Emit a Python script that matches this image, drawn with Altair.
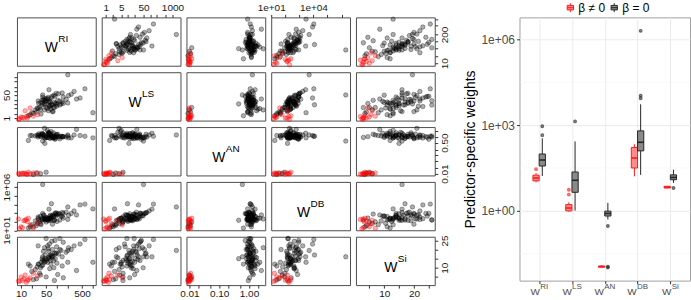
import altair as alt
import pandas as pd

VARS = ["RI", "LS", "AN", "DB", "Si"]

# ---------------- scatter-matrix data (beta = 0 : black, beta != 0 : red) ----------
ri_black = [60, 45, 95, 38, 120, 70, 30, 55, 80, 25, 150, 65,
            42, 100, 35, 210, 58, 48, 88, 20, 75, 52, 130, 40,
            62, 33, 110, 68, 50, 90, 28, 180, 57, 44, 78, 36,
            300, 63, 47, 98, 18, 72, 54, 85, 39, 250, 66, 31,
            140, 59, 440, 1000, 600, 46, 27, 35, 50, 22, 105, 82,
            120, 40, 200, 60, 350, 16, 75, 140, 30, 95, 200, 40,
            70, 45, 150, 85]
ls_black = [8, 20, 12, 9, 18, 30, 5, 25, 6, 4, 35, 15,
            22, 10, 14, 45, 3.5, 16, 40, 2.5, 9, 28, 11, 13,
            7, 6, 60, 4.5, 19, 12, 5.5, 24, 33, 10, 3, 2,
            90, 17, 26, 7.5, 1.8, 38, 5, 14, 21, 55, 8.5, 12,
            70, 16, 30, 2.5, 140, 11, 2.8, 4.2, 6, 2.2, 20, 48,
            9, 35, 13, 120, 25, 1.5, 3, 15, 18, 65, 1500, 50,
            9.5, 4, 12, 6]
an_black = [1.3, 0.9, 1.1, 1.6, 0.8, 1.2, 1.0, 0.95, 1.7, 1.15, 1.05, 0.85,
            1.4, 1.25, 1.1, 0.9, 1.8, 1.0, 0.75, 1.2, 1.35, 0.95, 1.1, 1.5,
            0.88, 1.3, 1.05, 2.0, 1.15, 0.82, 1.25, 1.0, 1.45, 1.2, 0.92, 1.1,
            1.3, 1.6, 0.85, 1.05, 1.2, 0.98, 2.3, 1.1, 1.35, 0.9, 1.25, 1.5,
            1.0, 1.7, 1.2, 0.9, 1.1, 0.45, 0.011, 0.010, 0.012, 0.009, 1.4, 0.95,
            1.0, 1.3, 1.15, 1.6, 2.6, 0.65, 0.9, 1.1, 1.2, 1.4, 1.3, 0.6,
            1.1, 3.0, 1.05, 0.95]
db_black = [240, 210, 450, 160, 750, 300, 240, 175, 360, 120, 900, 150,
            600, 105, 420, 540, 150, 300, 900, 45, 550, 280, 450, 190,
            220, 95, 900, 240, 165, 840, 65, 1250, 210, 510, 140, 45,
            1750, 420, 195, 640, 25, 440, 250, 140, 240, 900, 570, 165,
            1125, 125, 8700, 3000, 10700, 145, 35, 60, 90, 25, 750, 460,
            150, 900, 180, 2800, 600, 18, 50, 400, 350, 1100, 5000, 2000000,
            12000, 200, 260, 150]
si_black = [15, 13, 18, 11, 20, 16, 12, 22, 14, 9, 24, 17,
            19, 12.5, 10, 21, 15.5, 13.5, 25, 8, 16.5, 14.5, 19.5, 11.5,
            23, 7, 17.5, 12, 26, 15, 10.5, 18.5, 20.5, 14, 16, 13,
            22, 9.5, 17, 21.5, 11, 24.5, 13, 18, 15, 20, 14, 12,
            16, 19, 23, 13, 25.5, 15, 4, 6, 5, 3.5, 6.3, 10,
            26, 14, 13, 16, 8.5, 12, 20, 11, 22, 18, 19.5, 16,
            17, 21, 4.5, 3]

ri_red = [9, 11, 12, 14, 10, 16, 13, 18, 22, 8.5, 29, 15]
ls_red = [0.9, 1.1, 1.0, 1.3, 1.2, 1.5, 3.5, 5.5, 1.4, 0.8, 1.8, 1.0]
an_red = [0.009, 0.010, 0.011, 0.0095, 0.0105, 0.012, 0.010, 0.0098, 0.011, 0.0102, 0.0108, 0.0092]
db_red = [15, 20, 130, 180, 25, 250, 140, 40, 17, 200, 60, 100]
si_red = [2.5, 3, 4, 2, 5, 3.5, 6, 4.5, 7, 2.8, 5.5, 3.2]

pts = pd.DataFrame({
    "RI": ri_black + ri_red,
    "LS": ls_black + ls_red,
    "AN": an_black + an_red,
    "DB": db_black + db_red,
    "Si": si_black + si_red,
    "grp": ["b"] * len(ri_black) + ["r"] * len(ri_red),
})

DOM = {"RI": [7.7, 1200], "LS": [0.66, 2300], "AN": [0.008, 3.5],
       "DB": [10, 4.0e6], "Si": [0.5, 27]}
STYPE = {"RI": "log", "LS": "log", "AN": "log", "DB": "log", "Si": "linear"}
TICKS = {
    "RI": [10, 20, 50, 100, 200, 500, 1000],
    "LS": [1, 2, 5, 10, 20, 50, 100, 200, 500, 1000],
    "AN": [0.01, 0.02, 0.05, 0.1, 0.2, 0.5, 1, 2],
    "DB": [1e1, 1e2, 1e3, 1e4, 1e5, 1e6],
    "Si": [5, 10, 15, 20, 25],
}
LAB_COL = {"RI": {10: "10", 50: "50", 500: "500"},
           "LS": {1: "1", 5: "5", 50: "50", 1000: "1000"},
           "AN": {0.01: "0.01", 0.1: "0.10", 1: "1.00"},
           "DB": {1e1: "1e+01", 1e4: "1e+04"},
           "Si": {10: "10", 20: "20"}}
LAB_ROW = {"RI": {10: "10", 200: "200"},
           "LS": {1: "1", 50: "50"},
           "AN": {0.01: "0.01", 0.5: "0.50"},
           "DB": {1e1: "1e+01", 1e6: "1e+06"},
           "Si": {10: "10", 25: "25"}}

# ---------------- boxplot data (log10 of weights) ----------------
box_idx = [1, 2, 3, 4, 5]
box_sup = ["RI", "LS", "AN", "DB", "Si"]
neq_q1 = [1.05, 0.00, -1.97, 1.50, 0.80]
neq_med = [1.15, 0.10, -1.95, 1.85, 0.83]
neq_q3 = [1.25, 0.22, -1.93, 2.22, 0.86]
neq_lo = [1.00, -0.03, -1.98, 1.21, 0.79]
neq_hi = [1.32, 0.30, -1.90, 2.33, 0.87]
eq_q1 = [1.57, 0.65, -0.18, 2.10, 1.09]
eq_med = [1.78, 1.07, -0.09, 2.40, 1.17]
eq_q3 = [1.99, 1.36, -0.01, 2.80, 1.26]
eq_lo = [1.22, 0.01, -0.30, 1.26, 0.98]
eq_hi = [2.54, 2.43, 0.28, 3.73, 1.44]
neq_out_idx = [1, 2, 2]
neq_out_val = [1.46, 0.57, 0.74]
eq_out_idx = [1, 1, 2, 3, 3, 3, 4, 4, 4, 5]
eq_out_val = [2.65, 2.96, 3.13, -0.53, -1.95, -1.98, 3.94, 4.03, 6.30, 0.80]
minor_breaks = [-1.5, 1.5, 4.5]

G_NEQ, G_EQ = "β ≠ 0", "β = 0"
GRP = [G_NEQ, G_EQ]

bdf = pd.DataFrame({
    "v": box_idx + box_idx,
    "g": [G_NEQ] * 5 + [G_EQ] * 5,
    "q1": neq_q1 + eq_q1, "med": neq_med + eq_med, "q3": neq_q3 + eq_q3,
    "lo": neq_lo + eq_lo, "hi": neq_hi + eq_hi,
})
odf = pd.DataFrame({
    "v": neq_out_idx + eq_out_idx,
    "g": [G_NEQ] * len(neq_out_idx) + [G_EQ] * len(eq_out_idx),
    "val": neq_out_val + eq_out_val,
})

FONT = "Liberation Sans"
PW, PH = 79, 48.5


def label_expr(d):
    s = ""
    for v, txt in d.items():
        tol = abs(v) * 1e-6
        s += f"abs(datum.value - {float(v)!r}) < {tol!r} ? '{txt}' : "
    return s + "''"


AX = dict(tickSize=3, domain=False, grid=False, labelFlush=False,
          labelOverlap=False, labelFontSize=10, labelColor="#1a1a1a",
          tickColor="#333333", title=None, labelFont=FONT)


def xaxis(var, orient):
    return alt.Axis(orient=orient, values=TICKS[var], labelExpr=label_expr(LAB_COL[var]),
                    labelAngle=0, labelPadding=2 if orient == "top" else 0, **AX)


def yaxis(var, orient):
    return alt.Axis(orient=orient, values=TICKS[var], labelExpr=label_expr(LAB_ROW[var]),
                    labelAngle=270, labelAlign="center", labelPadding=2,
                    labelBaseline="bottom" if orient == "left" else "top", **AX)


def sc(v):
    return alt.Scale(type=STYPE[v], domain=DOM[v], nice=False, zero=False)


SUPW10 = {"RI": 10.0, "LS": 12.2, "AN": 13.9, "DB": 13.9, "Si": 8.9}
one = pd.DataFrame({"a": [0]})


def diag_text(v):
    wW = 13.2
    total = wW + SUPW10[v]
    x0 = PW / 2 - total / 2
    w = alt.Chart(one).mark_text(align="left", baseline="alphabetic", fontSize=14,
                                 font=FONT, color="#000").encode(
        x=alt.value(x0), y=alt.value(35), text=alt.value("W"))
    s = alt.Chart(one).mark_text(align="left", baseline="alphabetic", fontSize=10,
                                 font=FONT, color="#000").encode(
        x=alt.value(x0 + wW + 0.3), y=alt.value(25), text=alt.value(v))
    return [w, s]


def panel(i, j):
    vy, vx = VARS[i], VARS[j]
    xa = None
    ya = None
    if i == 0 and j in (1, 3):
        xa = xaxis(vx, "top")
    if i == 4 and j in (0, 2, 4):
        xa = xaxis(vx, "bottom")
    if j == 0 and i in (1, 3):
        ya = yaxis(vy, "left")
    if j == 4 and i in (0, 2, 4):
        ya = yaxis(vy, "right")
    enc = dict(x=alt.X(f"{vx}:Q", scale=sc(vx), axis=xa),
               y=alt.Y(f"{vy}:Q", scale=sc(vy), axis=ya))
    if i == j:
        layers = []
        if xa is not None or ya is not None:
            layers.append(alt.Chart(pts).mark_point(opacity=0).encode(**enc))
        layers += diag_text(vx)
        return alt.layer(*layers).properties(width=PW, height=PH)
    base = alt.Chart(pts)
    black = base.transform_filter("datum.grp == 'b'").mark_circle(
        size=20, fill="#000000", fillOpacity=0.32, stroke="#000000",
        strokeOpacity=0.45, strokeWidth=0.7).encode(**enc)
    red = base.transform_filter("datum.grp == 'r'").mark_circle(
        size=20, fill="#ff0000", fillOpacity=0.32, stroke="#ff0000",
        strokeOpacity=0.45, strokeWidth=0.7).encode(**enc)
    return alt.layer(black, red).properties(width=PW, height=PH)


matrix = alt.concat(*[panel(i, j) for i in range(5) for j in range(5)],
                    columns=5, spacing=6, bounds="flush")

# ---------------- boxplot panel ----------------
BW, BH = 171, 264
xs = alt.Scale(domain=[0.4, 5.6], nice=False, zero=False)
ys = alt.Scale(domain=[-2.44, 6.77], nice=False, zero=False)
XAX = alt.Axis(values=[1, 2, 3, 4, 5], labels=False, title=None, grid=True,
               gridColor="#ebebeb", gridWidth=1, tickSize=3, tickColor="#333333",
               domain=False)
YAX = alt.Axis(values=[0, 3, 6], labelExpr="'1e+0' + datum.value",
               title="Predictor-specific weights", grid=True, gridColor="#ebebeb",
               gridWidth=1, tickSize=3, tickColor="#333333", domain=False,
               labelFontSize=12, labelColor="#4d4d4d", labelFont=FONT,
               titleFont=FONT, titleFontSize=14, titleFontWeight="normal",
               titleColor="#000000", titlePadding=3, labelPadding=2)

KEY_PATH = "M-0.7,-0.5H0.7V0.5H-0.7Z M0,-1V-0.5 M0,0.5V1 M-0.7,0H0.7"
LEG = alt.Legend(title=None, orient="none", legendX=549, legendY=-16,
                 direction="horizontal", symbolType=KEY_PATH, symbolSize=81,
                 symbolStrokeWidth=1, labelFontSize=12, labelFont=FONT,
                 labelColor="#000000", columnPadding=3, labelOffset=2, padding=0)
fill_sc = alt.Scale(domain=GRP, range=["#ff8c8c", "#8a8a8a"])
stroke_sc = alt.Scale(domain=GRP, range=["#ff1a1a", "#262626"])

bb = alt.Chart(bdf).transform_calculate(
    pos=f"datum.v + (datum.g == '{G_NEQ}' ? -0.095 : 0.095)"
).transform_calculate(
    lft="datum.pos - 0.095", rgt="datum.pos + 0.095"
)

minor = alt.Chart(pd.DataFrame({"m": minor_breaks})).mark_rule(
    color="#f4f4f4", strokeWidth=0.6).encode(
    y=alt.Y("m:Q", scale=ys, axis=YAX))

wlo = bb.mark_rule(strokeWidth=1).encode(
    x=alt.X("pos:Q", scale=xs, axis=XAX),
    y=alt.Y("lo:Q", scale=ys, axis=YAX), y2="q1:Q",
    stroke=alt.Stroke("g:N", scale=stroke_sc, legend=LEG))
whi = bb.mark_rule(strokeWidth=1).encode(
    x=alt.X("pos:Q", scale=xs, axis=XAX),
    y=alt.Y("q3:Q", scale=ys, axis=YAX), y2="hi:Q",
    stroke=alt.Stroke("g:N", scale=stroke_sc, legend=LEG))
boxes = bb.mark_rect(strokeWidth=1).encode(
    x=alt.X("lft:Q", scale=xs, axis=XAX), x2="rgt:Q",
    y=alt.Y("q1:Q", scale=ys, axis=YAX), y2="q3:Q",
    fill=alt.Fill("g:N", scale=fill_sc, legend=LEG),
    stroke=alt.Stroke("g:N", scale=stroke_sc, legend=LEG))
meds = bb.mark_rule(strokeWidth=1.6).encode(
    x=alt.X("lft:Q", scale=xs, axis=XAX), x2="rgt:Q",
    y=alt.Y("med:Q", scale=ys, axis=YAX),
    stroke=alt.Stroke("g:N", scale=stroke_sc, legend=LEG))
outs = alt.Chart(odf).transform_calculate(
    pos=f"datum.v + (datum.g == '{G_NEQ}' ? -0.095 : 0.095)"
).mark_point(filled=False, size=5, strokeWidth=1.6, opacity=0.7).encode(
    x=alt.X("pos:Q", scale=xs, axis=XAX),
    y=alt.Y("val:Q", scale=ys, axis=YAX),
    stroke=alt.Stroke("g:N", scale=stroke_sc, legend=LEG))

lab_df = pd.DataFrame({"v": box_idx, "s": box_sup})
SUPW8 = {"RI": 8.0, "LS": 9.8, "AN": 11.1, "DB": 11.1, "Si": 7.1}
xlabels = []
for k, s in zip(box_idx, box_sup):
    wW = 9.4
    total = wW + SUPW8[s]
    d0 = -total / 2
    src = alt.Chart(lab_df).transform_filter(f"datum.v == {k}")
    xlabels.append(src.mark_text(align="left", baseline="alphabetic", fontSize=10,
                                 font=FONT, color="#4d4d4d", dx=d0).encode(
        x=alt.X("v:Q", scale=xs, axis=XAX), y=alt.value(BH + 14), text=alt.value("W")))
    xlabels.append(src.mark_text(align="left", baseline="alphabetic", fontSize=8,
                                 font=FONT, color="#4d4d4d", dx=d0 + wW + 0.3).encode(
        x=alt.X("v:Q", scale=xs, axis=XAX), y=alt.value(BH + 8), text="s:N"))

box = alt.layer(minor, wlo, whi, boxes, meds, outs, *xlabels).properties(
    width=BW, height=BH, view=alt.ViewBackground(stroke="#a0a0a0", strokeWidth=1))

chart = alt.hconcat(matrix, box, spacing=12, bounds="full").properties(
    padding={"left": 1, "top": 1, "right": 0, "bottom": 0}
).configure(font=FONT, background="white").configure_view(
    stroke="#4d4d4d", strokeWidth=1)

chart.save("out.html", embed_options={"renderer": "svg", "actions": False})
